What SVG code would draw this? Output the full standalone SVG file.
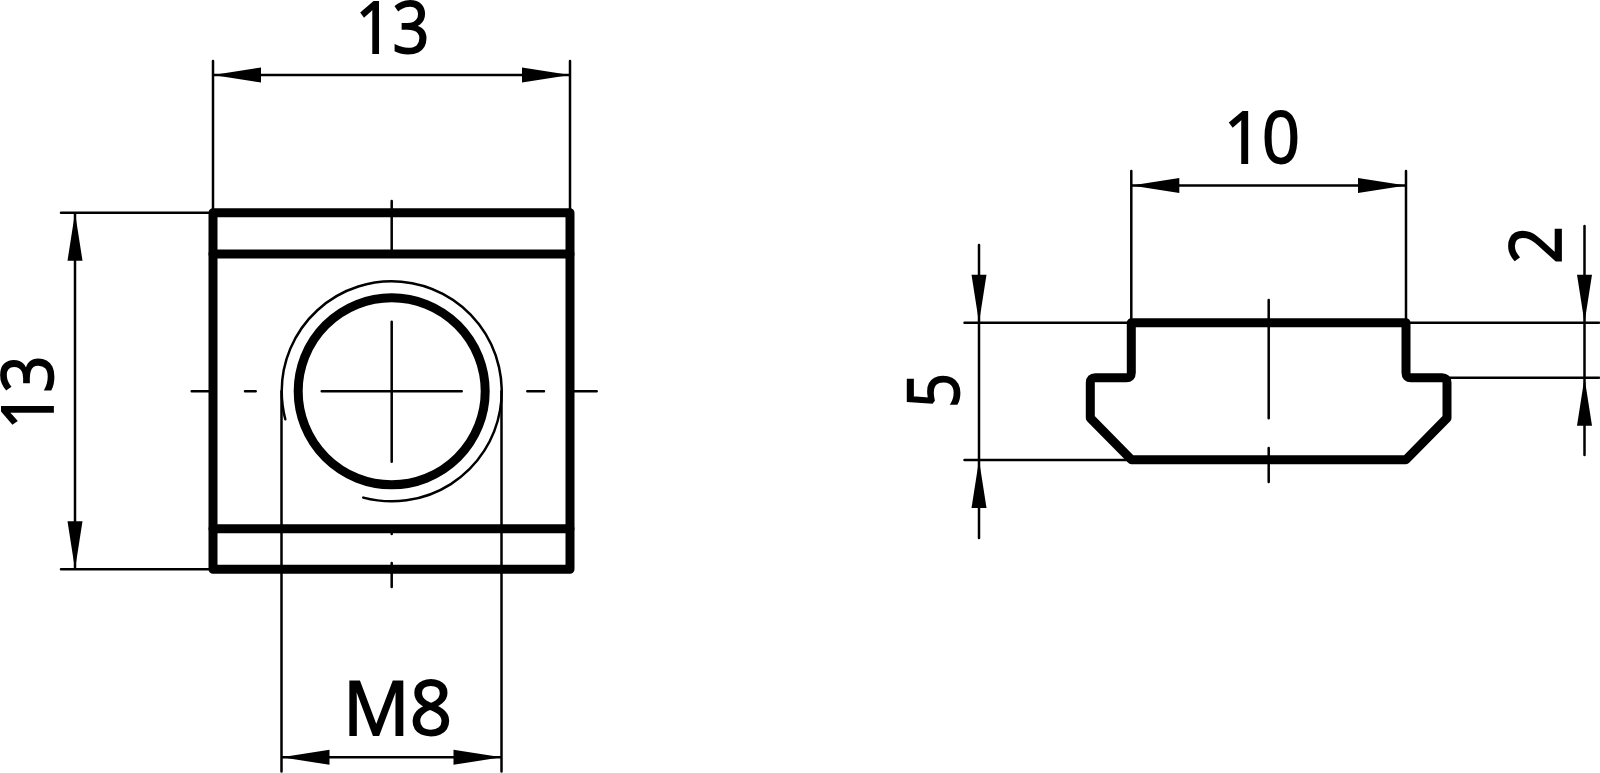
<svg xmlns="http://www.w3.org/2000/svg" width="1600" height="773" viewBox="0 0 1600 773">
<style>
.thin{fill:none;stroke:#000;stroke-width:2.5;stroke-linecap:round}
.thick{fill:none;stroke:#000;stroke-width:9;stroke-linejoin:round;stroke-linecap:round}
.ah{fill:#000;stroke:none}
text{font-family:"Open Sans","Noto Sans",sans-serif;font-size:71px;fill:#000;stroke:#000;stroke-width:1.8;text-anchor:middle}
</style>
<defs>
<polygon id="a" class="ah" points="0,0 48,-7.5 48,7.5"/>
</defs>
<g id="front-view">
<rect x="213" y="212.7" width="357" height="356.6" class="thick"/>
<path d="M213 254H570M213 528.7H570" class="thick"/>
<circle cx="391.7" cy="391.3" r="93.5" class="thick"/>
<path d="M285.3 419.3A110 110 0 0 1 281.7 391.3A110 110 0 1 1 363.3 497.6" class="thin"/>
</g>
<g id="side-view">
<path d="M1131.3 322.7H1406V372.7Q1406 377.7 1411 377.7H1442Q1447 377.7 1447 382.7V418L1406 459.7H1131.3L1090.3 418V382.7Q1090.3 377.7 1095.3 377.7H1126.3Q1131.3 377.7 1131.3 372.7Z" class="thick"/>
</g>
<g id="connectors">
<path class="thin" d="M391.7 201V254M391.7 321.7V461.7M321.7 391.3H461.7M391.7 528V534M391.7 563V587M191.7 391.3H213M245 391.3H255.7M527.3 391.3H544M570 391.3H596.7"/>
<path class="thin" d="M213 61V212M570 61V212M213 75H570"/>
<path class="thin" d="M61 212.7H213M61 569.3H213M75 212.7V569.3"/>
<path class="thin" d="M281.5 391.3V771.5M501.5 391.3V771.5M281.5 757.3H501.5"/>
<path class="thin" d="M1268.7 300V418.3M1268.7 448V482"/>
<path class="thin" d="M1131.3 171V322M1406 171V322M1131.3 185.5H1406"/>
<path class="thin" d="M964.5 322.7H1131M964.5 460H1127M979 245V538"/>
<path class="thin" d="M1406 322.7H1599M1447 377.7H1599M1584.5 226V455"/>
<use href="#a" transform="translate(213 75)"/>
<use href="#a" transform="translate(570 75) rotate(180)"/>
<use href="#a" transform="translate(75 212.7) rotate(90)"/>
<use href="#a" transform="translate(75 569.3) rotate(-90)"/>
<use href="#a" transform="translate(281.5 757.3)"/>
<use href="#a" transform="translate(501.5 757.3) rotate(180)"/>
<use href="#a" transform="translate(1131.3 185.5)"/>
<use href="#a" transform="translate(1406 185.5) rotate(180)"/>
<use href="#a" transform="translate(979 322.7) rotate(-90)"/>
<use href="#a" transform="translate(979 460) rotate(90)"/>
<use href="#a" transform="translate(1584.5 322.7) rotate(-90)"/>
<use href="#a" transform="translate(1584.5 377.7) rotate(90)"/>
</g>
<g id="labels">
<text x="392.5" y="53" textLength="74" lengthAdjust="spacingAndGlyphs">13</text>
<text transform="translate(53 392.5) rotate(-90)" textLength="74" lengthAdjust="spacingAndGlyphs">13</text>
<text x="397.5" y="735" style="font-size:75px" textLength="109" lengthAdjust="spacingAndGlyphs">M8</text>
<text x="1262" y="163" textLength="76" lengthAdjust="spacingAndGlyphs">10</text>
<text transform="translate(958.5 390.5) rotate(-90)" textLength="35" lengthAdjust="spacingAndGlyphs">5</text>
<text transform="translate(1561 245) rotate(-90)" textLength="38" lengthAdjust="spacingAndGlyphs">2</text>
</g>
</svg>
